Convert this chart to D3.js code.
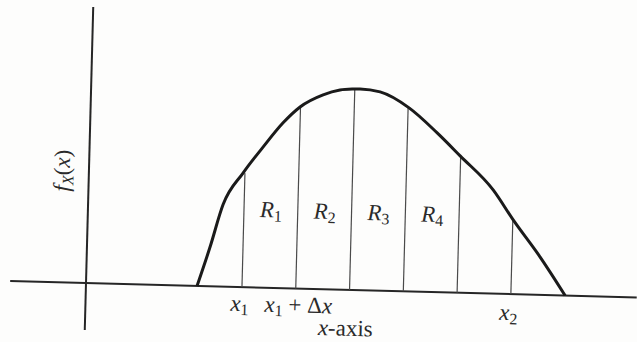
<!DOCTYPE html>
<html>
<head>
<meta charset="utf-8">
<script src="https://cdn.jsdelivr.net/npm/d3@7"></script>
<style>
	html, body { margin: 0; padding: 0; background: #fdfdfc; }
</style>
</head>
<body>
<div id="chart"></div>
<script>
// Density curve (x in strip units, y relative to axis height)
const curveX = [ 2.065, 2.286, 2.509, 2.864, 3.223, 3.584, 3.892, 4.314, 4.626, 4.887, 4.998, 5.372, 5.918, 6.452, 6.890, 7.520, 7.907, 8.426, 8.909 ];
const curveY = [ 0, 0.141, 0.297, 0.413, 0.509, 0.599, 0.658, 0.704, 0.723, 0.728, 0.729, 0.720, 0.665, 0.577, 0.496, 0.376, 0.269, 0.137, 0 ];

// Strip edges (vertical lines) and their heights on the curve
const edgeX = [ 2.9, 3.9, 4.9, 5.9, 6.9, 7.9 ];
const edgeY = [ 0.413, 0.657, 0.728, 0.666, 0.497, 0.27 ];

// Region labels, one per strip between consecutive edges
const regionNames = [ 'R1', 'R2', 'R3', 'R4' ];

// Axis extents
const axisX = [ -1.41, 10.24 ];
const axisY = [ -0.17, 1.0 ];

const cfg = {
	width: 637,
	height: 342,
	originX: 86,
	originY: 283,
	tilt: 1.5,
	unitX: 53.8,
	unitY: 276,
	fontSize: 23,
};

const svg = d3.select( '#chart' )
	.append( 'svg' )
	.attr( 'width', cfg.width )
	.attr( 'height', cfg.height )
	.style( 'display', 'block' );

// marks sit slightly rotated, like the scan
const g = svg.append( 'g' )
	.attr( 'transform', `translate(${ cfg.originX }, ${ cfg.originY }) rotate(${ cfg.tilt })` );

// texts go in a plain layer; positions are turned by hand
const textLayer = svg.append( 'g' );

const x = d3.scaleLinear().domain( [ 0, 10 ] ).range( [ 0, cfg.unitX * 10 ] );
const y = d3.scaleLinear().domain( [ 0, 1 ] ).range( [ 0, -cfg.unitY ] );

const rad = cfg.tilt * Math.PI / 180;
function toScreen( px, py ) {
	return [
		cfg.originX + px * Math.cos( rad ) - py * Math.sin( rad ),
		cfg.originY + px * Math.sin( rad ) + py * Math.cos( rad ),
	];
}

function label( px, py, extraRotate ) {
	const [ sx, sy ] = toScreen( px, py );
	return textLayer.append( 'text' )
		.attr( 'transform', `translate(${ sx.toFixed( 1 ) }, ${ sy.toFixed( 1 ) }) rotate(${ cfg.tilt + ( extraRotate || 0 ) })` )
		.attr( 'font-family', '"Liberation Serif", "Times New Roman", serif' )
		.attr( 'font-size', cfg.fontSize )
		.attr( 'fill', '#2a2a2a' )
		.attr( 'text-anchor', 'middle' );
}

function italic( t, s ) {
	t.append( 'tspan' ).attr( 'font-style', 'italic' ).text( s );
}

function sub( t, s ) {
	t.append( 'tspan' ).attr( 'font-size', 16 ).attr( 'dy', 4 ).text( s );
}

function plain( t, s, dy ) {
	t.append( 'tspan' ).attr( 'dy', dy || 0 ).text( s );
}

// axes
g.append( 'line' )
	.attr( 'x1', x( axisX[ 0 ] ) )
	.attr( 'x2', x( axisX[ 1 ] ) )
	.attr( 'y1', y( 0 ) )
	.attr( 'y2', y( 0 ) )
	.attr( 'stroke', '#262626' )
	.attr( 'stroke-width', 2 );

g.append( 'line' )
	.attr( 'x1', x( 0 ) )
	.attr( 'x2', x( 0 ) )
	.attr( 'y1', y( axisY[ 0 ] ) )
	.attr( 'y2', y( axisY[ 1 ] ) )
	.attr( 'stroke', '#262626' )
	.attr( 'stroke-width', 2 );

// strip edges
g.selectAll( 'line.edge' )
	.data( edgeX )
	.enter()
	.append( 'line' )
	.attr( 'class', 'edge' )
	.attr( 'x1', ( d ) => x( d ) )
	.attr( 'x2', ( d ) => x( d ) )
	.attr( 'y1', y( 0 ) )
	.attr( 'y2', ( d, i ) => y( edgeY[ i ] ) )
	.attr( 'stroke', '#4a4a4a' )
	.attr( 'stroke-width', 1.2 );

// density curve
const line = d3.line()
	.x( ( d ) => x( d[ 0 ] ) )
	.y( ( d ) => y( d[ 1 ] ) )
	.curve( d3.curveMonotoneX );

g.append( 'path' )
	.datum( curveX.map( ( d, i ) => [ d, curveY[ i ] ] ) )
	.attr( 'd', line )
	.attr( 'fill', 'none' )
	.attr( 'stroke', '#1a1a1a' )
	.attr( 'stroke-width', 3 )
	.attr( 'stroke-linejoin', 'round' );

// R1..R4 centred in their strips
regionNames.forEach( ( r, i ) => {
	const t = label( x( ( edgeX[ i ] + edgeX[ i + 1 ] ) / 2 ), y( 0.255 ) );
	italic( t, r[ 0 ] );
	sub( t, r.slice( 1 ) );
} );

const tickY = 24;

// x1
const t1 = label( x( edgeX[ 0 ] ) - 2, tickY );
italic( t1, 'x' );
sub( t1, '1' );

// x1 + Δx
const t2 = label( x( edgeX[ 1 ] ) + 3, tickY );
italic( t2, 'x' );
sub( t2, '1' );
plain( t2, ' + Δ', -4 );
italic( t2, 'x' );

// x2
const t3 = label( x( edgeX[ edgeX.length - 1 ] ) - 2, tickY + 2 );
italic( t3, 'x' );
sub( t3, '2' );

// x-axis title
const xt = label( x( 4.84 ), 46 );
italic( xt, 'x' );
plain( xt, '-axis' );

// f_X(x), reading upwards
const yt = label( x( -0.36 ), y( 0.405 ), -90 );
italic( yt, 'f' );
yt.append( 'tspan' ).attr( 'font-style', 'italic' ).attr( 'font-size', 16 ).attr( 'dy', 4 ).text( 'X' );
plain( yt, '(', -4 );
italic( yt, 'x' );
plain( yt, ')' );
</script>
</body>
</html>
